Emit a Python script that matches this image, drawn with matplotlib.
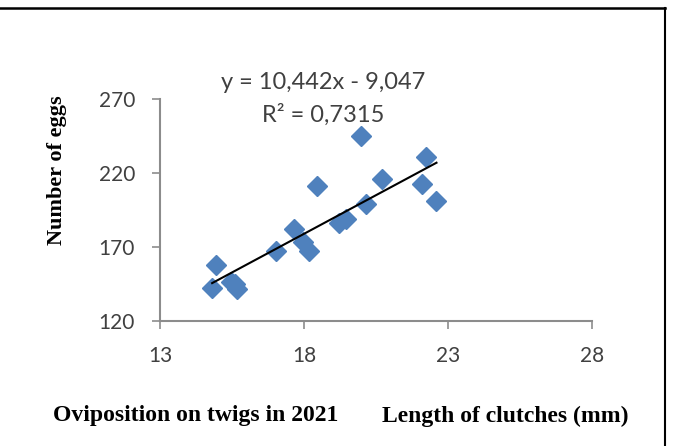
import numpy as np
import matplotlib.pyplot as plt
from matplotlib.lines import Line2D

# data
length_mm = [14.94, 14.81, 15.48, 15.68, 15.60, 17.04, 17.65, 17.96, 18.19,
             18.44, 19.23, 19.46, 19.98, 20.17, 20.70, 22.10, 22.25, 22.60]
eggs = [157.8, 142.1, 146.6, 141.4, 145.0, 167.5, 182.0, 173.6, 167.3,
        211.4, 186.0, 188.6, 245.0, 199.0, 215.7, 212.6, 231.0, 201.4]
slope = 10.442
intercept = -9.047
r2_text = "0,7315"
x_ticks = [13, 18, 23, 28]
y_ticks = [120, 170, 220, 270]

W, H = 683, 446
fig = plt.figure(figsize=(W / 100, H / 100), dpi=100)

# plot area in pixels
left, right, top, bottom = 160, 592, 99, 321
ax = fig.add_axes([left / W, (H - bottom) / H, (right - left) / W, (bottom - top) / H])

ax.plot(length_mm, eggs, linestyle="none", marker="D", markersize=10,
        color="#4F81BD", markeredgecolor="#4F81BD", zorder=3)

# linear trend line over the data range
xs = np.array([min(length_mm), max(length_mm)])
ax.plot(xs, slope * xs + intercept, color="black", linewidth=1.5, zorder=4)

ax.set_xlim(13, 28)
ax.set_ylim(120, 270)
ax.set_xticks(x_ticks)
ax.set_yticks(y_ticks)
for s in ["top", "right"]:
    ax.spines[s].set_visible(False)
for s in ["left", "bottom"]:
    ax.spines[s].set_color("#8c8c8c")
    ax.spines[s].set_linewidth(1.5)
ax.tick_params(direction="out", length=6, width=1.2, color="#8c8c8c",
               labelcolor="#404040", labelsize=15, pad=12)
for lab in ax.get_xticklabels() + ax.get_yticklabels():
    lab.set_fontfamily("Lato")

ax.text(0.377, 1.075, "y = 10,442x - 9,047", transform=ax.transAxes,
        ha="center", va="center", fontsize=17, color="#404040", family="Lato")
ax.text(0.377, 0.93, "R² = " + r2_text, transform=ax.transAxes,
        ha="center", va="center", fontsize=17, color="#404040", family="Lato")

fig.text(57 / W, 1 - 170 / H, "Number of eggs", rotation=90, ha="center", va="center",
         fontsize=16, fontweight="bold", family="Liberation Serif")
fig.text(196 / W, 1 - 416 / H, "Oviposition on twigs in 2021", ha="center", va="center",
         fontsize=17, fontweight="bold", family="Liberation Serif")
fig.text(505 / W, 1 - 416 / H, "Length of clutches (mm)", ha="center", va="center",
         fontsize=17, fontweight="bold", family="Liberation Serif")

# frame lines at top and right
fig.add_artist(Line2D([0, 665 / W], [1 - 8 / H, 1 - 8 / H], color="black", linewidth=1.8,
                      transform=fig.transFigure))
fig.add_artist(Line2D([665 / W, 665 / W], [0, 1 - 8 / H], color="black", linewidth=1.5,
                      transform=fig.transFigure))

fig.savefig("out.png", dpi=100)
